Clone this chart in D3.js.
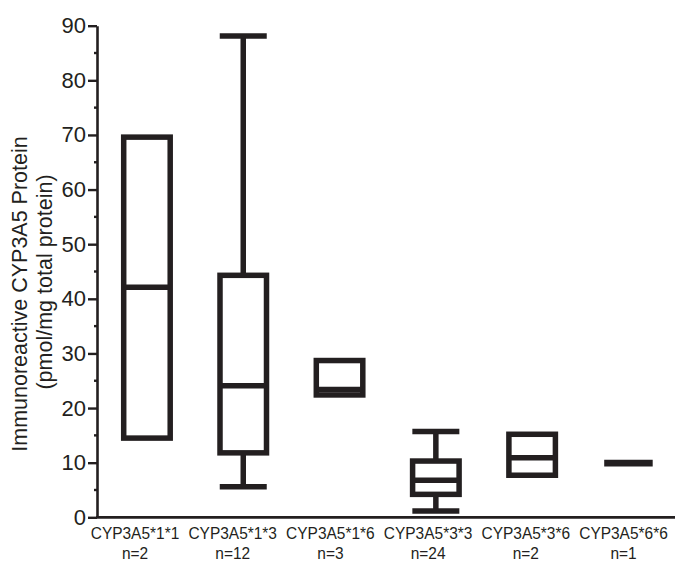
<!DOCTYPE html>
<html>
<head>
<meta charset="utf-8">
<script src="https://cdnjs.cloudflare.com/ajax/libs/d3/7.8.5/d3.min.js"></script>
<style>
    body { margin: 0; background: #fff; }
    svg { display: block; font-family: "Liberation Sans", Arial, sans-serif; }
</style>
</head>
<body>
<div id="chart"></div>
<script>
const categories = ["CYP3A5*1*1", "CYP3A5*1*3", "CYP3A5*1*6", "CYP3A5*3*3", "CYP3A5*3*6", "CYP3A5*6*6"];
const sampleSizes = ["n=2", "n=12", "n=3", "n=24", "n=2", "n=1"];
const q1Values = [14.5, 11.8, 22.4, 4.2, 7.7, 9.9];
const medianValues = [42.1, 24.1, 23.4, 6.8, 10.9, 9.9];
const q3Values = [69.6, 44.3, 28.7, 10.3, 15.2, 9.9];
const whiskerLow = [null, 5.6, null, 1.15, null, null];
const whiskerHigh = [null, 88.1, null, 15.7, null, null];
const yTicks = [0, 10, 20, 30, 40, 50, 60, 70, 80, 90];
const yMinorTicks = [5, 15, 25, 35, 45, 55, 65, 75, 85];

const width = 675, height = 563;
const ink = "#231f20";

const svg = d3.select("#chart").append("svg")
    .attr("width", width)
    .attr("height", height);

const x = d3.scalePoint()
    .domain(categories)
    .range([98.8, 676.6])
    .padding(0.5);

const labelX = d3.scalePoint()
    .domain(categories)
    .range([135, 623.5]);

const y = d3.scaleLinear()
    .domain([0, 90])
    .range([517.3, 25.7]);

const boxW = 46.5;
const capW = 47;
const sw = 5.5;

const rows = categories.map((c, i) => ({
    cat: c,
    n: sampleSizes[i],
    q1: q1Values[i],
    med: medianValues[i],
    q3: q3Values[i],
    lo: whiskerLow[i],
    hi: whiskerHigh[i]
}));

// y axis
const yAxis = svg.append("g")
    .attr("transform", "translate(97,0)")
    .call(d3.axisLeft(y).tickValues(yTicks).tickSize(9).tickSizeOuter(0).tickPadding(2));
yAxis.select(".domain").attr("stroke", ink).attr("stroke-width", 2.6);
yAxis.selectAll(".tick line").attr("stroke", ink).attr("stroke-width", 2.4);
yAxis.selectAll(".tick text")
    .attr("fill", ink)
    .style("font-size", "22px")
    .style("font-family", "'Liberation Sans', Arial, sans-serif");

yAxis.selectAll(".minor")
    .data(yMinorTicks)
    .enter().append("line")
    .attr("class", "minor")
    .attr("x1", -3).attr("x2", 0)
    .attr("y1", d => y(d)).attr("y2", d => y(d))
    .attr("stroke", ink).attr("stroke-width", 2.4);

// x axis line
svg.append("line")
    .attr("x1", 96).attr("x2", width)
    .attr("y1", y(0)).attr("y2", y(0))
    .attr("stroke", ink).attr("stroke-width", 2.8);

// whiskers
const withWhiskers = rows.filter(d => d.hi !== null);
const g = svg.append("g");

g.selectAll(".whisker-hi")
    .data(withWhiskers)
    .enter().append("line")
    .attr("x1", d => x(d.cat)).attr("x2", d => x(d.cat))
    .attr("y1", d => y(d.q3)).attr("y2", d => y(d.hi))
    .attr("stroke", ink).attr("stroke-width", sw);

g.selectAll(".whisker-lo")
    .data(withWhiskers)
    .enter().append("line")
    .attr("x1", d => x(d.cat)).attr("x2", d => x(d.cat))
    .attr("y1", d => y(d.q1)).attr("y2", d => y(d.lo))
    .attr("stroke", ink).attr("stroke-width", sw);

g.selectAll(".cap")
    .data(withWhiskers.flatMap(d => [{ cat: d.cat, v: d.hi }, { cat: d.cat, v: d.lo }]))
    .enter().append("line")
    .attr("x1", d => x(d.cat) - capW / 2).attr("x2", d => x(d.cat) + capW / 2)
    .attr("y1", d => y(d.v)).attr("y2", d => y(d.v))
    .attr("stroke", ink).attr("stroke-width", sw);

// boxes
g.selectAll(".box")
    .data(rows.filter(d => d.q3 > d.q1))
    .enter().append("rect")
    .attr("x", d => x(d.cat) - boxW / 2)
    .attr("y", d => y(d.q3))
    .attr("width", boxW)
    .attr("height", d => y(d.q1) - y(d.q3))
    .attr("fill", "#fff")
    .attr("stroke", ink)
    .attr("stroke-width", sw);

// medians
g.selectAll(".median")
    .data(rows)
    .enter().append("line")
    .attr("x1", d => x(d.cat) - boxW / 2 - (d.q3 > d.q1 ? 0 : 1))
    .attr("x2", d => x(d.cat) + boxW / 2 + (d.q3 > d.q1 ? 0 : 1))
    .attr("y1", d => y(d.med)).attr("y2", d => y(d.med))
    .attr("stroke", ink)
    .attr("stroke-width", d => d.q3 > d.q1 ? sw : 6.7);

// category labels
const labels = svg.append("g").attr("fill", ink).style("font-size", "17px");
labels.selectAll(".cat")
    .data(rows)
    .enter().append("text")
    .attr("text-anchor", "middle")
    .attr("transform", d => `translate(${labelX(d.cat)},539) scale(0.91,1)`)
    .text(d => d.cat);
labels.selectAll(".n")
    .data(rows)
    .enter().append("text")
    .attr("text-anchor", "middle")
    .attr("transform", d => `translate(${labelX(d.cat)},559) scale(0.91,1)`)
    .text(d => d.n);

// y title, two lines
const title = svg.append("g").attr("fill", ink).style("font-size", "21.5px");
title.append("text")
    .attr("text-anchor", "middle")
    .attr("transform", "translate(27,294) rotate(-90)")
    .text("Immunoreactive CYP3A5 Protein");
title.append("text")
    .attr("text-anchor", "middle")
    .attr("transform", "translate(51.5,282) rotate(-90)")
    .text("(pmol/mg total protein)");
</script>
</body>
</html>
